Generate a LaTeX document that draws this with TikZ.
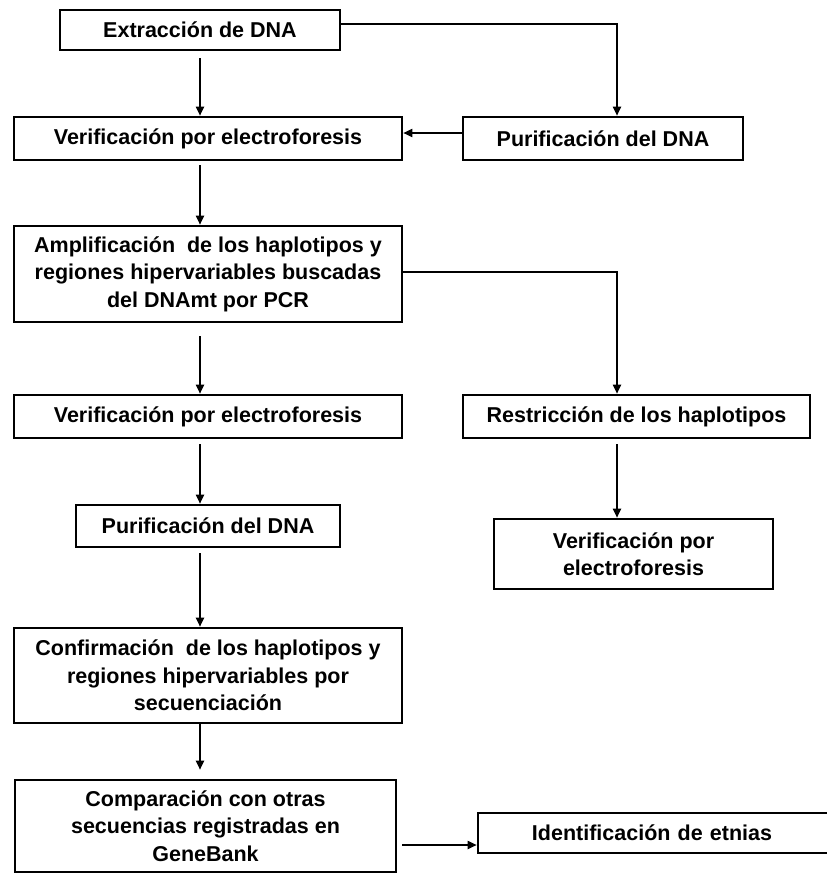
\documentclass[tikz,border=0pt]{standalone}
\usepackage{fontspec}
\setmainfont{Liberation Sans}
\usetikzlibrary{arrows.meta,calc}
\begin{document}
\begin{tikzpicture}[x=1pt,y=-1pt,
  box/.style={draw=black,line width=2.6pt,fill=white,inner sep=0pt,align=center,
    font=\fontsize{21.5}{27.5}\selectfont\bfseries},
  arr/.style={draw=black,line width=1.8pt,-{Triangle[length=9pt,width=8pt]}}]
\useasboundingbox (0,0) rectangle (827,873);
\clip (0,0) rectangle (827,873);
% boxes
\node[box,minimum width=280,minimum height=40] (b1) at (200,30) {Extracción de DNA};
\node[box,minimum width=388,minimum height=43] (b2) at (208,138.5) {Verificación por electroforesis};
\node[box,minimum width=280,minimum height=43] (b3) at (603,138.5) {Purificación del DNA};
\node[box,minimum width=388,minimum height=96] (b4) at (208,274) {Amplificación~ de los haplotipos y\\regiones hipervariables buscadas\\del DNAmt por PCR};
\node[box,minimum width=388,minimum height=43] (b5) at (208,416.5) {Verificación por electroforesis};
\node[box,minimum width=347,minimum height=43] (b6) at (636.5,416.5) {Restricción de los haplotipos};
\node[box,minimum width=264,minimum height=42] (b7) at (208,526) {Purificación del DNA};
\node[box,minimum width=279,minimum height=70] (b8) at (633.5,554) {Verificación por\\electroforesis};
\node[box,minimum width=388,minimum height=95] (b9) at (208,675.5) {Confirmación~ de los haplotipos y\\regiones hipervariables por\\secuenciación};
\node[box,minimum width=381,minimum height=92] (b10) at (205.5,826) {Comparación con otras\\secuencias registradas en\\GeneBank};
\node[box,minimum width=360,minimum height=40,text width=340] (b11) at (658,833) {\hspace*{-12pt}Identificación de etnias\hspace*{40pt}};
% connectors
\coordinate (cL) at (200,0);
\coordinate (cR) at (617,0);
\coordinate (h1) at ([yshift=5.5]b3.west);
\coordinate (h2) at (0,845);
\draw[arr,shorten <=7pt] (b1.south) -- (b1.south |- b2.north);
\draw[arr] ([yshift=6]b1.east) -| (cR |- b3.north);
\draw[arr] (h1) -- (b2.east |- h1);
\draw[arr,shorten <=4pt] (cL |- b2.south) -- (cL |- b4.north);
\draw[arr] ([yshift=2]b4.east) -| (cR |- b6.north);
\draw[arr,shorten <=13pt] (cL |- b4.south) -- (cL |- b5.north);
\draw[arr,shorten <=5pt] (cL |- b5.south) -- (cL |- b7.north);
\draw[arr,shorten <=5pt] (cR |- b6.south) -- (cR |- b8.north);
\draw[arr,shorten <=5pt] (cL |- b7.south) -- (cL |- b9.north);
\draw[arr,shorten >=9pt] (cL |- b9.south) -- (cL |- b10.north);
\draw[arr,shorten <=5pt] (b10.east |- h2) -- (b11.west |- h2);
\end{tikzpicture}
\end{document}
